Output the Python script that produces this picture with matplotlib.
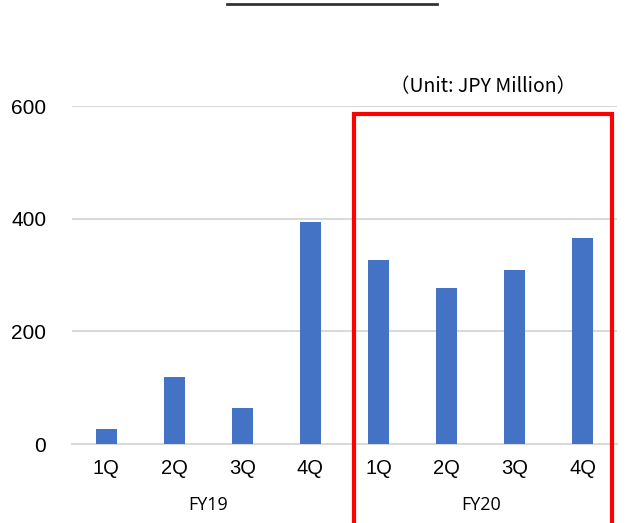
import matplotlib.pyplot as plt
from matplotlib.patches import Rectangle
from matplotlib.lines import Line2D

# quarterly figures, JPY million
quarters = ["1Q", "2Q", "3Q", "4Q", "1Q", "2Q", "3Q", "4Q"]
fy19_values = [27, 119, 64, 394]
fy20_values = [327, 277, 308, 366]
years = ["FY19", "FY20"]
y_ticks = [0, 200, 400, 600]

values = fy19_values + fy20_values
bar_color = "#4472C4"
grid_color = "#d9d9d9"

fig = plt.figure(figsize=(6.4, 5.23), dpi=100)
ax = fig.add_axes([72 / 640, 1 - 444 / 523, 545 / 640, 338 / 523])

x = list(range(len(values)))
ax.bar(x, values, width=0.31, color=bar_color, zorder=3)

ax.set_xlim(-0.5, len(values) - 0.5)
ax.set_ylim(0, 600)
ax.set_yticks(y_ticks)
ax.set_yticklabels([str(t) for t in y_ticks], family="Liberation Sans", fontsize=15)
ax.set_xticks(x)
ax.set_xticklabels(quarters, family="Liberation Sans", fontsize=14.5)
ax.tick_params(axis="y", length=0, pad=18.5)
ax.tick_params(axis="x", length=0, pad=11)
ax.yaxis.grid(True, color=grid_color, linewidth=1.5, zorder=0)
for side in ["top", "right", "left"]:
    ax.spines[side].set_visible(False)
ax.spines["bottom"].set_color(grid_color)
ax.spines["bottom"].set_linewidth(1.5)

# fiscal year group labels under the quarters
for i, year in enumerate(years):
    ax.text(i * 4 + 1.5, -0.18, year, transform=ax.get_xaxis_transform(),
            ha="center", va="center", fontsize=13, family="Open Sans")

fig.text(483 / 640, 1 - 87 / 523, "（Unit: JPY Million）", ha="center", va="center",
         fontsize=14, family=["Noto Sans CJK JP", "DejaVu Sans"])

# red frame around FY20
fig.patches.append(Rectangle((354 / 640, -0.05), (612 - 354) / 640, (1 - 114 / 523) + 0.05,
                             transform=fig.transFigure, fill=False,
                             edgecolor="#ff0000", linewidth=3, zorder=5))

# rule at the top
fig.lines.append(Line2D([227 / 640, 437 / 640], [1 - 4 / 523, 1 - 4 / 523],
                        transform=fig.transFigure, color="#333333", linewidth=2))

fig.savefig("out.png", dpi=100)
